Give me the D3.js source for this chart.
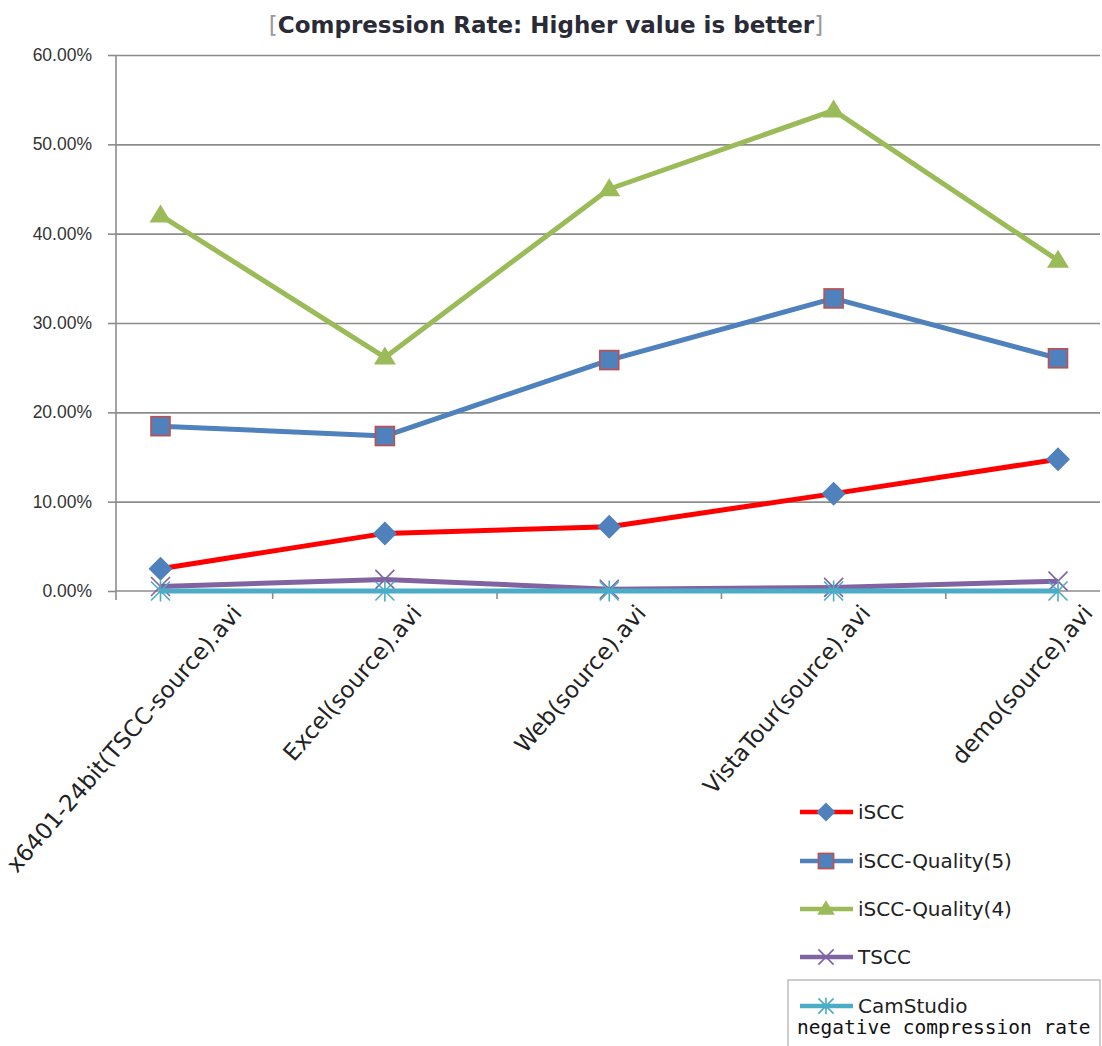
<!DOCTYPE html>
<html>
<head>
<meta charset="utf-8">
<script src="https://cdn.jsdelivr.net/npm/d3@7"></script>
<style>
  html, body { margin: 0; padding: 0; background: #fff; }
  svg { display: block; }
</style>
</head>
<body>
<svg id="chart" width="1102" height="1046"></svg>
<script>
const categories = ["x6401-24bit(TSCC-source).avi", "Excel(source).avi", "Web(source).avi", "VistaTour(source).avi", "demo(source).avi"];
const seriesNames = ["iSCC", "iSCC-Quality(5)", "iSCC-Quality(4)", "TSCC", "CamStudio"];
const iSCC = [0.0250, 0.0645, 0.0720, 0.1090, 0.1475];
const iSCCQ5 = [0.1845, 0.1735, 0.2585, 0.3275, 0.2605];
const iSCCQ4 = [0.4205, 0.2615, 0.4500, 0.5380, 0.3700];
const TSCC = [0.0050, 0.0130, 0.0020, 0.0040, 0.0110];
const CamStudio = [0, 0, 0, 0, 0];
const yTicks = [0, 0.1, 0.2, 0.3, 0.4, 0.5, 0.6];
const titleText = "Compression Rate: Higher value is better";
const noteText = "negative compression rate";

const svg = d3.select("#chart");
const pLeft = 116, pRight = 1100, pTop = 55, pBottom = 591;

const y = d3.scaleLinear().domain([0, 0.6]).range([pBottom, pTop]);
const x = d3.scalePoint().domain(categories).range([160.5, 1058]);
const step = x.step();

// Title
const title = svg.append("text")
  .attr("x", 546).attr("y", 33)
  .attr("text-anchor", "middle")
  .style("font-family", "DejaVu Sans")
  .style("font-size", "23px");
title.append("tspan").attr("fill", "#9a9a9a").text("[");
title.append("tspan").attr("fill", "#2b2b38").style("font-weight", "bold").text(titleText);
title.append("tspan").attr("fill", "#9a9a9a").text("]");

// Gridlines
svg.append("g")
  .attr("transform", `translate(${pLeft},0)`)
  .call(d3.axisLeft(y).tickValues(yTicks.filter(d => d > 0)).tickSize(-(pRight - pLeft)).tickFormat(""))
  .call(g => g.select(".domain").remove())
  .call(g => g.selectAll("line").attr("stroke", "#8c8c8c").attr("stroke-width", 1.6));

// Y axis
const yAxis = svg.append("g")
  .attr("transform", `translate(${pLeft},0)`)
  .call(d3.axisLeft(y).tickValues(yTicks).tickSize(8).tickPadding(16).tickFormat(d3.format(".2%")));
yAxis.select(".domain").attr("stroke", "#8c8c8c").attr("stroke-width", 1.6).attr("d", `M0,${pTop}V${pBottom + 9}`);
yAxis.selectAll("line").attr("stroke", "#8c8c8c").attr("stroke-width", 1.6);
yAxis.selectAll("text").style("font-family", "Liberation Sans").style("font-size", "17.5px").attr("fill", "#333");

// X axis line and ticks (between categories)
const xAxisG = svg.append("g");
xAxisG.append("line").attr("x1", pLeft).attr("x2", pRight).attr("y1", pBottom).attr("y2", pBottom)
  .attr("stroke", "#8c8c8c").attr("stroke-width", 1.6);
xAxisG.selectAll("line.tick").data(categories.slice(0, categories.length - 1)).join("line")
  .attr("class", "tick")
  .attr("x1", d => x(d) + step / 2).attr("x2", d => x(d) + step / 2)
  .attr("y1", pBottom).attr("y2", pBottom + 8)
  .attr("stroke", "#8c8c8c").attr("stroke-width", 1.6);

// X labels rotated
const angle = 49;
const cosA = Math.cos(angle * Math.PI / 180);
xAxisG.selectAll("text.xl").data(categories).join("text")
  .attr("class", "xl")
  .attr("text-anchor", "end")
  .style("font-family", "DejaVu Sans")
  .style("font-size", "23px")
  .attr("fill", "#222")
  .text(d => d)
  .each(function(d) {
    const L = this.getComputedTextLength();
    const ax = Math.min(1094, Math.max(x(d) + 38, 17 + cosA * L));
    const ay = 614;
    d3.select(this).attr("transform", `translate(${ax},${ay}) rotate(${-angle})`);
  });

// Series
const series = [
  { name: seriesNames[0], values: iSCC, line: "#FF0000", marker: "diamond", fill: "#4F81BD", stroke: "none" },
  { name: seriesNames[1], values: iSCCQ5, line: "#4F81BD", marker: "square", fill: "#4F81BD", stroke: "#C0504D" },
  { name: seriesNames[2], values: iSCCQ4, line: "#9BBB59", marker: "triangle", fill: "#9BBB59", stroke: "none" },
  { name: seriesNames[3], values: TSCC, line: "#8064A2", marker: "x", fill: "none", stroke: "#8064A2" },
  { name: seriesNames[4], values: CamStudio, line: "#4BACC6", marker: "star", fill: "none", stroke: "#4BACC6" }
];

function drawMarker(g, type, cx, cy, s, fill, stroke) {
  if (type === "diamond") {
    const r = 12 * s;
    g.append("path").attr("d", `M${cx},${cy - r}L${cx + r},${cy}L${cx},${cy + r}L${cx - r},${cy}Z`).attr("fill", fill);
  } else if (type === "square") {
    const h = 9.5 * s;
    g.append("rect").attr("x", cx - h).attr("y", cy - h).attr("width", 2 * h).attr("height", 2 * h)
      .attr("fill", fill).attr("stroke", stroke).attr("stroke-width", 1.6);
  } else if (type === "triangle") {
    const w = 11 * s, h = 18 * s;
    g.append("path").attr("d", `M${cx},${cy - h * 0.6}L${cx + w},${cy + h * 0.4}L${cx - w},${cy + h * 0.4}Z`).attr("fill", fill);
  } else if (type === "x") {
    const r = 9.5 * s;
    g.append("path").attr("d", `M${cx - r},${cy - r}L${cx + r},${cy + r}M${cx - r},${cy + r}L${cx + r},${cy - r}`)
      .attr("stroke", stroke).attr("stroke-width", 1.6).attr("fill", "none");
  } else if (type === "star") {
    const r = 9.5 * s;
    g.append("path").attr("d", `M${cx - r},${cy - r}L${cx + r},${cy + r}M${cx - r},${cy + r}L${cx + r},${cy - r}M${cx},${cy - r * 1.1}L${cx},${cy + r * 1.1}`)
      .attr("stroke", stroke).attr("stroke-width", 1.6).attr("fill", "none");
  }
}

const lineGen = d3.line().x((d, i) => x(categories[i])).y(d => y(d));
series.forEach(s => {
  const g = svg.append("g");
  g.append("path").datum(s.values).attr("d", lineGen)
    .attr("fill", "none").attr("stroke", s.line).attr("stroke-width", 5).attr("stroke-linejoin", "round");
  s.values.forEach((v, i) => drawMarker(g, s.marker, x(categories[i]), y(v), 1, s.fill, s.stroke));
});

// Legend
const legendY = [812, 861, 909, 957, 1006];
const lg = svg.append("g");
lg.append("rect").attr("x", 788).attr("y", 980).attr("width", 312).attr("height", 80)
  .attr("fill", "none").attr("stroke", "#bdbdbd").attr("stroke-width", 1.5);
series.forEach((s, i) => {
  const yy = legendY[i];
  lg.append("line").attr("x1", 800).attr("x2", 853).attr("y1", yy).attr("y2", yy)
    .attr("stroke", s.line).attr("stroke-width", 4.5);
  drawMarker(lg, s.marker, 826, yy, 0.8, s.fill, s.stroke);
  lg.append("text").attr("x", 858).attr("y", yy + 7)
    .style("font-family", "DejaVu Sans").style("font-size", "20px").attr("fill", "#222")
    .text(s.name);
});
lg.append("text").attr("x", 797).attr("y", 1034)
  .style("font-family", "DejaVu Sans Mono").style("font-size", "19.5px").attr("fill", "#111")
  .text(noteText);
</script>
</body>
</html>
